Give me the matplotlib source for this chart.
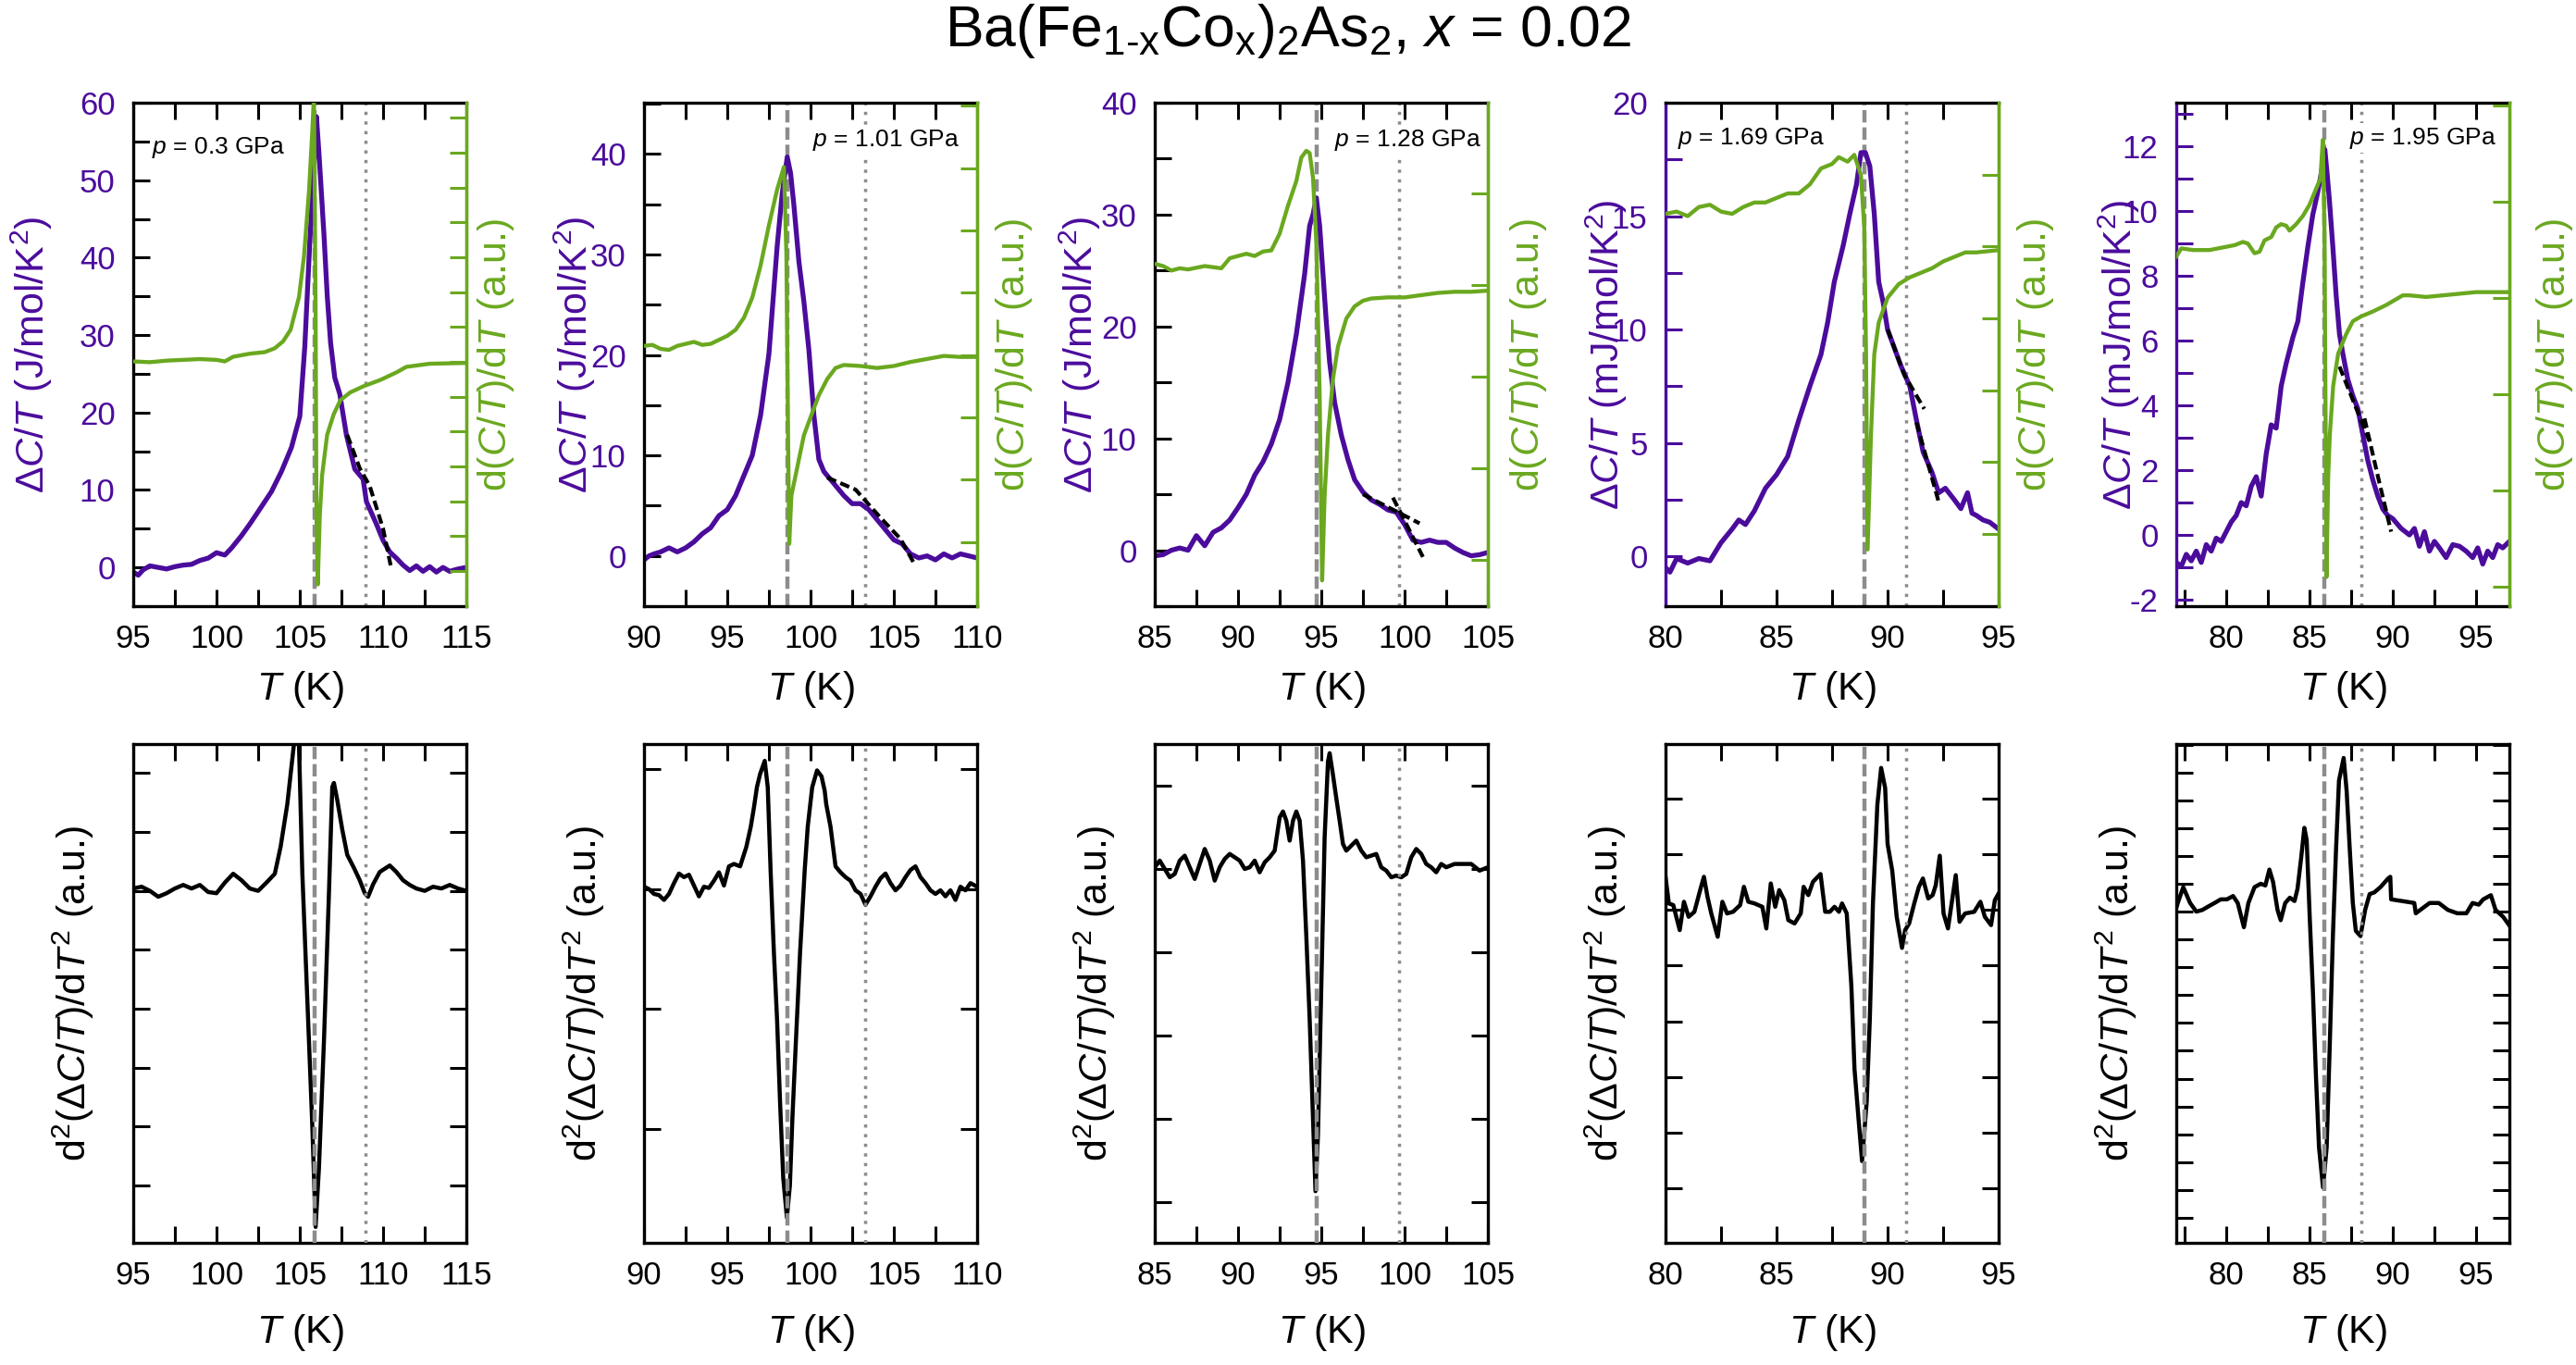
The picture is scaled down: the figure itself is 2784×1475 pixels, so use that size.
import numpy as np
import matplotlib
matplotlib.use("Agg")
import matplotlib.pyplot as plt
from matplotlib.ticker import MultipleLocator

plt.rcParams['font.family'] = ['Liberation Sans', 'DejaVu Sans']
plt.rcParams['mathtext.fontset'] = 'custom'
plt.rcParams['mathtext.rm'] = 'Liberation Sans'
plt.rcParams['mathtext.it'] = 'Liberation Sans:italic'
plt.rcParams['mathtext.bf'] = 'Liberation Sans:bold'
plt.rcParams['axes.unicode_minus'] = False

PURPLE = "#4b0c9c"
GREEN = "#6aa81f"
GRAY = "#8c8c8c"

# ---------------- data ----------------
# pressures (GPa) and the two marked temperatures per panel
pressures = ["0.3", "1.01", "1.28", "1.69", "1.95"]
t_dashed = [105.9, 98.6, 94.7, 88.95, 85.9]
t_dotted = [108.95, 103.3, 99.65, 90.85, 88.1]

# panel 1 (p = 0.3 GPa)
p1_T = [95, 95.3, 95.6, 96, 96.5, 97, 97.5, 98, 98.5, 99, 99.5, 100, 100.5, 100.9, 101.5, 102, 102.5,
        103.3, 103.9, 104.5, 105.0, 105.3, 105.6, 105.85, 106.0, 106.15, 106.45, 106.65, 106.85, 107.1,
        107.4, 107.8, 108.3, 108.8, 109.0, 109.6, 110.0, 110.4, 110.8, 111.2, 111.6, 112, 112.4, 112.8,
        113.2, 113.6, 114, 114.5, 115]
p1_C = [-0.6, -1.0, -0.3, 0.2, 0.0, -0.2, 0.1, 0.3, 0.4, 0.9, 1.2, 1.9, 1.6, 2.5, 4.1, 5.6, 7.2,
        9.8, 12.4, 15.5, 19.5, 28.5, 42.0, 52.0, 58.2, 53.5, 43.0, 35.0, 29.0, 24.5,
        22.4, 17.1, 12.7, 11.4, 8.5, 5.6, 3.5, 2.0, 1.2, 0.3, -0.4, 0.2, -0.5, 0.1,
        -0.6, 0.0, -0.5, -0.2, 0.0]
p1_gT = [95, 96, 97, 98, 99, 100, 100.5, 101, 102, 102.9, 103.5, 104.0, 104.45, 104.95, 105.25, 105.55,
         105.75, 105.85, 105.95, 106.0, 106.08, 106.2, 106.34, 106.64, 107.04, 107.44, 108.03, 108.83,
         109.83, 110.82, 111.4, 112.8, 115]
p1_g = [26.6, 26.5, 26.7, 26.8, 26.9, 26.8, 26.6, 27.2, 27.6, 27.8, 28.3, 29.2, 30.7, 34.9, 40.1, 48.5,
        56.3, 61.0, 32.8, 6.7, -2.2, 6.7, 11.9, 17.1, 19.8, 21.6, 22.6, 23.4,
        24.2, 25.2, 25.9, 26.3, 26.4]
p1_fT = [107.85, 108.6, 109.2, 110.0, 110.5]
p1_f = [17.1, 12.8, 10.5, 5.0, -0.2]
p1_bT = [95, 95.5, 96, 96.5, 97, 97.5, 98, 98.5, 99, 99.5, 100, 100.5, 101, 101.5, 102, 102.5, 103, 103.5,
         103.85, 104.25, 104.65, 104.8, 104.95, 105.15, 105.45, 105.75, 105.95, 106.15, 106.45, 106.75,
         106.95, 107.05, 107.25, 107.55, 107.85, 108.25, 108.6, 108.9, 109.1, 109.4, 109.8, 110.4, 110.8,
         111.2, 111.6, 112, 112.5, 113, 113.5, 114, 114.5, 115]
p1_b = [0.04, 0.07, 0.0, -0.1, -0.04, 0.04, 0.1, 0.04, 0.1, -0.02, -0.04, 0.14, 0.29, 0.18, 0.04, 0.0, 0.14, 0.29,
        0.75, 1.47, 2.49, 3.0, 2.49, 0.32, -1.83, -3.98, -5.7, -4.7, -2.55, -0.04,
        1.76, 1.83, 1.54, 1.04, 0.61, 0.39, 0.18, -0.04, -0.1, 0.11, 0.32, 0.43, 0.32,
        0.18, 0.1, 0.04, 0.0, 0.07, 0.04, 0.1, 0.04, 0.0]

# panel 2 (p = 1.01 GPa)
p2_T = [90, 90.3, 90.6, 91, 91.5, 92, 92.5, 93, 93.5, 94, 94.5, 95, 95.5, 96, 96.5, 97, 97.5, 98, 98.3,
        98.6, 98.8, 99.0, 99.3, 99.6, 99.9, 100.2, 100.5, 100.8, 101.2, 101.6, 102, 102.5, 103, 103.5,
        104, 104.5, 105, 105.5, 106, 106.5, 107, 107.5, 108, 108.5, 109, 109.5, 110]
p2_C = [-0.4, 0.0, 0.2, 0.4, 0.8, 0.4, 0.8, 1.4, 2.2, 2.8, 4.0, 4.6, 6.0, 8.0, 10.0, 14.0, 20.1, 30.9, 36.1,
        39.7, 38.1, 34.9, 29.3, 25.3, 20.5, 14.0, 9.6, 8.4, 7.6, 6.8, 6.0, 5.2, 5.2, 4.6,
        3.6, 2.6, 1.6, 1.2, 0.2, -0.2, 0.0, -0.4, 0.2, -0.2, 0.2, 0.0, -0.2]
p2_gT = [90, 90.5, 91, 91.5, 92, 92.5, 93, 93.5, 94, 94.5, 95, 95.5, 96, 96.5, 97, 97.5, 98, 98.4, 98.55,
         98.65, 98.72, 98.85, 99.0, 99.3, 99.6, 100, 100.5, 101, 101.5, 102, 103, 104, 105, 106, 107, 108,
         109, 110]
p2_g = [20.9, 21.0, 20.6, 20.5, 20.9, 21.1, 21.3, 21.0, 21.1, 21.5, 21.9, 22.5, 23.7, 25.7, 28.9, 32.9, 36.5,
        38.7, 30.0, 12.0, 1.2, 6.0, 7.2, 9.6, 12.0, 13.8, 16.0, 17.6, 18.7, 19.0, 18.9, 18.7, 18.9, 19.3,
        19.6, 19.9, 19.8, 19.8]
p2_fT = [101.0, 102.7, 104.2, 105.4, 106.2]
p2_f = [7.8, 6.6, 3.8, 1.7, -0.7]
p2_bT = [90, 90.3, 90.6, 90.9, 91.2, 91.5, 91.8, 92.1, 92.4, 92.7, 93.0, 93.3, 93.6, 93.9, 94.2, 94.5, 94.8,
         95.1, 95.4, 95.77, 96.14, 96.41, 96.6, 96.78, 96.97, 97.25, 97.43, 97.6, 97.8, 97.99, 98.17, 98.36,
         98.58, 98.76, 98.91, 99.09, 99.37, 99.65, 99.83, 100.1, 100.39, 100.66, 100.85, 100.94, 101.2,
         101.5, 101.8, 102.1, 102.4, 102.7, 103.0, 103.3, 103.6, 103.9, 104.2, 104.5, 104.8, 105.1, 105.4,
         105.7, 106.0, 106.3, 106.6, 106.9, 107.2, 107.5, 107.8, 108.1, 108.4, 108.7, 109.0, 109.3, 109.6,
         110]
p2_b = [0.02, 0.0, -0.04, -0.05, -0.09, -0.04, 0.05, 0.13, 0.1, 0.12, 0.03, -0.06, 0.02, 0.01, 0.07, 0.14, 0.03,
        0.19, 0.21, 0.19, 0.35, 0.52, 0.68, 0.85, 0.96, 1.07, 0.85, 0.16, -0.53, -1.09, -1.78, -2.41,
        -2.74, -2.47, -1.91, -1.36, -0.53, 0.16, 0.52, 0.85, 0.99, 0.94, 0.82, 0.71, 0.52,
        0.19, 0.14, 0.1, 0.07, -0.01, -0.04, -0.13, -0.06, 0.02, 0.09, 0.13, 0.05, -0.01, 0.03,
        0.1, 0.16, 0.19, 0.1, 0.05, -0.01, -0.04, -0.01, -0.06, -0.01, -0.09, 0.02, -0.01, 0.05,
        0.02]

# panel 3 (p = 1.28 GPa)
p3_T = [85, 85.5, 86, 86.5, 87, 87.5, 88, 88.5, 89, 89.5, 90, 90.5, 91, 91.5, 92, 92.5, 93, 93.5, 94, 94.3,
        94.5, 94.7, 94.9, 95.1, 95.3, 95.5, 95.8, 96.2, 96.6, 97, 97.5, 98, 98.5, 99, 99.5, 100, 100.5, 101,
        101.5, 102, 102.5, 103, 103.5, 104, 104.5, 105]
p3_C = [-0.5, -0.4, 0.0, 0.2, 0.0, 1.3, 0.4, 1.6, 2.0, 2.7, 3.8, 5.0, 6.7, 7.9, 9.5, 11.7, 15.0, 19.3, 24.7,
        29.0, 30.0, 31.5, 29.0, 24.7, 20.4, 16.8, 13.2, 10.3, 8.1, 6.3, 5.2, 4.5, 4.1, 3.6, 3.4, 2.3, 0.9,
        0.7, 0.9, 0.7, 0.7, 0.2, -0.2, -0.5, -0.4, -0.2]
p3_gT = [85, 85.5, 86, 86.5, 87, 88, 89, 89.5, 90, 90.5, 91, 91.5, 92, 92.5, 93, 93.5, 93.8, 94.1, 94.3,
         94.5, 94.7, 94.9, 95.05, 95.2, 95.4, 95.7, 96, 96.5, 97, 97.5, 98, 99, 100, 101, 102, 103, 104, 105]
p3_g = [25.6, 25.4, 25.0, 25.2, 25.1, 25.4, 25.2, 26.1, 26.3, 26.5, 26.3, 26.7, 26.8, 28.3, 30.8, 33.0, 35.1,
        35.7, 35.5, 33.3, 27.6, 13.9, -2.7, 4.9, 10.3, 15.3, 18.2, 20.7, 21.8, 22.3, 22.5, 22.6, 22.6,
        22.8, 23.0, 23.1, 23.1, 23.2]
p3_fT = [97.5, 100.9, np.nan, 99.3, 101.1]
p3_f = [5.0, 2.4, np.nan, 4.7, -0.6]
p3_bT = [85, 85.3, 85.6, 85.9, 86.2, 86.5, 86.8, 87.1, 87.4, 87.7, 88.0, 88.3, 88.6, 88.9, 89.2, 89.5, 89.8,
         90.1, 90.4, 90.7, 91.0, 91.3, 91.6, 91.9, 92.2, 92.5, 92.7, 92.9, 93.1, 93.3, 93.5, 93.7, 93.9,
         94.1, 94.3, 94.5, 94.65, 94.8, 95.0, 95.2, 95.4, 95.5, 95.7, 95.9, 96.1, 96.3, 96.5, 96.8, 97.1,
         97.4, 97.7, 98.0, 98.3, 98.6, 98.9, 99.2, 99.5, 99.8, 100.1, 100.4, 100.7, 101.0, 101.3, 101.6,
         101.9, 102.2, 102.5, 103.0, 103.5, 104.0, 104.5, 105.0]
p3_b = [0.02, 0.1, 0.0, -0.1, -0.06, 0.1, 0.16, 0.02, -0.12, 0.06, 0.24, 0.1, -0.14, 0.02, 0.12, 0.18, 0.14,
        0.1, 0.0, 0.02, 0.1, -0.04, 0.08, 0.14, 0.22, 0.62, 0.69, 0.58, 0.34, 0.58, 0.69, 0.58, 0.1,
        -0.81, -1.8, -2.99, -3.87, -3.19, -1.41, 0.38, 1.29, 1.39, 1.13, 0.85, 0.58, 0.3, 0.22, 0.28, 0.34,
        0.22, 0.14, 0.16, 0.18, 0.02, -0.02, -0.1, -0.08, -0.1, -0.06, 0.14, 0.24, 0.18, 0.06, 0.02,
        -0.04, 0.06, 0.02, 0.06, 0.06, 0.06, -0.02, 0.02]

# panel 4 (p = 1.69 GPa)
p4_T = [80, 80.2, 80.5, 81, 81.5, 82, 82.5, 83, 83.3, 83.6, 84, 84.5, 85, 85.5, 86, 86.5, 87, 87.3, 87.6, 88,
        88.3, 88.6, 88.8, 89.0, 89.2, 89.4, 89.6, 89.8, 90.0, 90.3, 90.6, 91, 91.3, 91.6, 92, 92.3, 92.6, 93,
        93.3, 93.6, 93.8, 94, 94.3, 94.6, 95]
p4_C = [-0.5, -0.7, -0.1, -0.3, -0.1, -0.2, 0.6, 1.2, 1.6, 1.4, 2.0, 3.0, 3.6, 4.4, 6.0, 7.5, 8.9, 10.3, 12.1,
        13.7, 15.1, 16.4, 17.8, 17.8, 17.2, 15.1, 12.1, 11.2, 10.0, 9.2, 8.4, 7.5, 6.0, 4.6, 3.7, 2.8, 3.0,
        2.5, 2.1, 2.8, 1.9, 1.8, 1.6, 1.5, 1.2]
p4_gT = [80, 80.5, 81, 81.5, 82, 82.5, 83, 83.5, 84, 84.5, 85, 85.5, 86, 86.5, 87, 87.5, 87.8, 88.2, 88.5,
         88.8, 88.95, 89.03, 89.1, 89.25, 89.4, 89.6, 90.0, 90.5, 91, 91.5, 92, 92.5, 93, 93.5, 94, 95]
p4_g = [15.1, 15.2, 15.0, 15.4, 15.5, 15.2, 15.1, 15.4, 15.6, 15.6, 15.8, 16.0, 16.0, 16.4, 17.1, 17.3, 17.6,
        17.4, 17.7, 16.8, 14.5, 8.9, 0.3, 5.3, 8.9, 10.3, 11.4, 12.0, 12.3, 12.5, 12.7, 13.0, 13.2, 13.4,
        13.4, 13.5]
p4_fT = [90.0, 90.75, 91.65, np.nan, 91.3, 92.3]
p4_f = [10.0, 8.0, 6.5, np.nan, 5.9, 2.4]
p4_bT = [80.0, 80.15, 80.35, 80.64, 80.83, 81.04, 81.3, 81.6, 81.73, 81.89, 82.06, 82.35, 82.56, 82.77,
         83.04, 83.36, 83.53, 83.73, 84.01, 84.36, 84.54, 84.74, 84.94, 85.12, 85.35, 85.53, 85.81, 86.09,
         86.22, 86.43, 86.64, 86.98, 87.19, 87.4, 87.61, 87.81, 87.95, 88.16, 88.37, 88.51, 88.69, 88.85,
         89.06, 89.2, 89.34, 89.54, 89.71, 89.89, 90.0, 90.21, 90.41, 90.65, 90.79, 90.97, 91.2, 91.41,
         91.59, 91.83, 92.03, 92.17, 92.35, 92.52, 92.72, 93.07, 93.24, 93.49, 93.9, 94.18, 94.38, 94.66,
         94.83, 95.0]
p4_b = [0.6, 0.12, 0.09, -0.36, 0.15, -0.12, -0.03, 0.42, 0.6, 0.24, -0.06, -0.48, 0.15, -0.06,
        -0.03, 0.09, 0.42, 0.15, 0.12, 0.06, -0.33, 0.48, 0.06, 0.36, 0.18, -0.18, -0.24, -0.06,
        0.42, 0.27, 0.51, 0.65, -0.03, -0.03, 0.06, -0.03, 0.12, -0.06, -1.37, -2.86, -3.75, -4.52,
        -3.45, -1.96, 0.12, 1.9, 2.56, 2.2, 1.19, 0.71, -0.12, -0.68, -0.36, -0.24, 0.12, 0.42,
        0.57, 0.21, 0.27, 0.45, 0.98, -0.06, -0.33, 0.63, -0.21, -0.06, -0.03, 0.15, -0.12, -0.27,
        0.18, 0.3]

# panel 5 (p = 1.95 GPa)
p5_T = [77.0, 77.3, 77.6, 77.9, 78.2, 78.5, 78.8, 79.1, 79.4, 79.7, 80.0, 80.3, 80.6, 80.9, 81.2, 81.5, 81.8,
        82.1, 82.4, 82.7, 83.0, 83.3, 83.6, 84.0, 84.3, 84.6, 84.9, 85.2, 85.5, 85.75, 85.92, 86.05, 86.2,
        86.4, 86.6, 86.8, 87.0, 87.3, 87.6, 87.9, 88.2, 88.5, 88.8, 89.1, 89.4, 89.7, 90.0, 90.5, 91.0,
        91.3, 91.6, 91.9, 92.2, 92.5, 92.8, 93.2, 93.6, 94.0, 94.4, 94.8, 95.1, 95.4, 95.7, 96.0, 96.3,
        96.6, 97.0]
p5_C = [-0.85, -0.97, -0.6, -0.8, -0.5, -0.85, -0.3, -0.5, -0.1, -0.2, 0.1, 0.4, 0.6, 1.0, 0.9, 1.5, 1.8,
        1.2, 2.5, 3.4, 3.3, 4.6, 5.3, 6.1, 6.6, 7.8, 8.9, 9.9, 10.6, 11.3, 11.9, 11.2, 10.3,
        8.9, 7.4, 6.2, 5.6, 4.8, 4.3, 3.9, 3.1, 2.3, 1.7, 1.2, 0.8, 0.6, 0.5, 0.2, 0.0,
        0.2, -0.35, 0.1, -0.5, -0.2, -0.4, -0.7, -0.3, -0.35, -0.5, -0.7, -0.4, -0.9, -0.5, -0.7, -0.3,
        -0.4, -0.2]
p5_gT = [77.0, 77.3, 78, 79, 80, 80.5, 81, 81.3, 81.7, 82, 82.3, 82.7, 83.0, 83.3, 83.6, 83.8, 84.2, 84.6,
         85.0, 85.4, 85.65, 85.8, 85.9, 85.97, 86.02, 86.12, 86.22, 86.42, 86.72, 87.2, 87.6, 88.1, 88.8,
         89.6, 90.6, 91, 92, 93, 94, 95, 96, 97]
p5_g = [8.6, 8.85, 8.8, 8.8, 8.9, 8.95, 9.05, 9.0, 8.7, 8.75, 9.1, 9.2, 9.5, 9.6, 9.55, 9.4, 9.6, 9.85,
        10.2, 10.7, 11.0, 12.2, 9.3, 3.1, -1.3, 1.8, 3.1, 4.6, 5.6, 6.2, 6.6, 6.75, 6.9,
        7.1, 7.4, 7.4, 7.35, 7.4, 7.45, 7.5, 7.5, 7.5]
p5_fT = [86.8, 87.5, 88.2, 88.6, np.nan, 88.3, 89.2, 89.9]
p5_f = [5.2, 4.3, 3.4, 2.9, np.nan, 3.6, 1.6, 0.1]
p5_bT = [77.0, 77.09, 77.42, 77.83, 78.2, 78.57, 78.94, 79.3, 79.67, 80.04, 80.41, 80.69, 81.06, 81.33, 81.7,
         82.07, 82.35, 82.59, 82.81, 83.08, 83.27, 83.54, 83.82, 84.1, 84.28, 84.5, 84.69, 84.83, 85.02,
         85.2, 85.39, 85.57, 85.81, 86.03, 86.22, 86.4, 86.59, 86.77, 87.05, 87.23, 87.42, 87.6, 87.78,
         88.06, 88.34, 88.61, 88.89, 89.26, 89.72, 89.85, 89.9, 90.55, 91.29, 91.38, 91.65, 92.21, 92.76,
         93.31, 93.87, 94.42, 94.79, 95.16, 95.43, 95.89, 96.17, 96.63, 97.0]
p5_b = [0.13, 0.31, 0.88, 0.31, 0.0, 0.06, 0.19, 0.31, 0.44, 0.44, 0.56, 0.31, -0.56, 0.31, 0.88,
        1.0, 0.94, 1.51, 1.07, 0.06, -0.31, 0.31, 0.5, 0.38, 0.82, 1.94, 3.01, 2.57, -0.31,
        -2.82, -5.96, -8.47, -9.91, -8.47, -4.71, -0.94, 2.2, 4.71, 5.52, 4.33, 2.2, 0.31, -0.69,
        -0.88, 0.06, 0.63, 0.69, 0.88, 1.19, 1.25, 0.44, 0.38, 0.31, -0.06, 0.06, 0.31, 0.31,
        0.06, -0.06, -0.06, 0.31, 0.25, 0.44, 0.59, 0.06, -0.19, -0.5]

# ---------------- per-panel axis settings ----------------
xlims = [(95, 115), (90, 110), (85, 105), (80, 95), (77, 97)]
ylims = [(-5, 60), (-5, 45.1), (-5, 40), (-2.2, 20), (-2.2, 13.35)]
y_major = [10, 10, 10, 5, 2]
y_minor = [5, 5, 5, 2.5, 1]
right_tick = [(-0.47, 4.5), (1.4, 6.2), (-0.9, 8.2), (0.98, 3.17), (-1.6, 2.97)]
units = ["J", "J", "J", "mJ", "mJ"]
left_col = ["k", "k", "k", PURPLE, PURPLE]
ylab_x = [-0.236, -0.139, -0.156, -0.108, -0.103]
ylab2_x = [1.028, 1.05, 1.061, 1.05, 1.075]
ptxt = [(0.055, 0.91, "left"), (0.947, 0.925, "right"), (0.98, 0.925, "right"),
        (0.036, 0.93, "left"), (0.96, 0.93, "right")]
ylims_b = [(-5.97, 2.49), (-2.95, 1.21), (-4.49, 1.5), (-5.99, 2.99), (-11.9, 6.02)]

top_T = [p1_T, p2_T, p3_T, p4_T, p5_T]
top_C = [p1_C, p2_C, p3_C, p4_C, p5_C]
green_T = [p1_gT, p2_gT, p3_gT, p4_gT, p5_gT]
green_v = [p1_g, p2_g, p3_g, p4_g, p5_g]
fit_T = [p1_fT, p2_fT, p3_fT, p4_fT, p5_fT]
fit_v = [p1_f, p2_f, p3_f, p4_f, p5_f]
bot_T = [p1_bT, p2_bT, p3_bT, p4_bT, p5_bT]
bot_v = [p1_b, p2_b, p3_b, p4_b, p5_b]

W, H = 2784, 1475
fig = plt.figure(figsize=(W / 100, H / 100), dpi=100)

TL = 13      # tick length
TW = 2.2     # tick width
SW = 2.4     # spine width
FS_TICK = 25
FS_LAB = 31


def style_x(ax, xlim):
    ax.set_xlim(xlim)
    ax.xaxis.set_major_locator(MultipleLocator(5))
    ax.xaxis.set_minor_locator(MultipleLocator(2.5))
    ax.tick_params(axis="x", which="both", direction="in", top=True, bottom=True,
                   length=TL, width=TW, labelsize=FS_TICK, pad=14, color="k")


def vlines(ax, i, z):
    ax.axvline(t_dashed[i], color=GRAY, lw=3.2, ls=(0, (3.0, 1.2)), zorder=z)
    ax.axvline(t_dotted[i], color=GRAY, lw=2.5, ls=(0, (1, 2.0)), zorder=z)


for i in range(5):
    x0 = (144 + 552 * i) / W

    # ---- top row: dC/T and d(C/T)/dT ----
    ax = fig.add_axes([x0, 1 - 655 / H, 360 / W, 544 / H])
    ax.plot(top_T[i], top_C[i], color=PURPLE, lw=3.8, zorder=2)
    ax.plot(fit_T[i], fit_v[i], color="k", lw=3.0, ls=(0, (2.5, 1.2)), zorder=3)
    vlines(ax, i, 1.5)
    style_x(ax, xlims[i])
    ax.set_ylim(ylims[i])
    ax.yaxis.set_major_locator(MultipleLocator(y_major[i]))
    ax.yaxis.set_minor_locator(MultipleLocator(y_minor[i]))
    ax.tick_params(axis="y", which="both", direction="in", left=True, right=False,
                   length=TL, width=TW, labelsize=FS_TICK, pad=14,
                   color=left_col[i], labelcolor=PURPLE)
    for s in ax.spines.values():
        s.set_linewidth(SW)
    ax.spines["left"].set_color(left_col[i])
    ax.spines["right"].set_color(GREEN)
    ax.set_ylabel("Δ$\\mathit{C}$/$\\mathit{T}$ (%s/mol/K$^2$)" % units[i],
                  color=PURPLE, fontsize=FS_LAB)
    ax.yaxis.set_label_coords(ylab_x[i], 0.5)
    ax.set_xlabel("$\\mathit{T}$ (K)", fontsize=FS_LAB)
    ax.xaxis.set_label_coords(0.5, -0.125)

    ax2 = ax.twinx()
    ax2.plot(green_T[i], green_v[i], color=GREEN, lw=3.1, zorder=2)
    ax2.set_ylim(ylims[i])
    start, step = right_tick[i]
    ax2.set_yticks(np.arange(start, ylims[i][1], step))
    ax2.tick_params(axis="y", which="both", direction="in", length=TL, width=TW,
                    color=GREEN, labelright=False)
    for k in ("left", "top", "bottom"):
        ax2.spines[k].set_visible(False)
    ax2.spines["right"].set_color(GREEN)
    ax2.spines["right"].set_linewidth(SW)
    ax2.set_ylabel("d($\\mathit{C}$/$\\mathit{T}$)/d$\\mathit{T}$ (a.u.)",
                   color=GREEN, fontsize=FS_LAB)
    ax2.yaxis.set_label_coords(ylab2_x[i], 0.5)
    tx, ty, ha = ptxt[i]
    ax2.text(tx, ty, "$\\mathit{p}$ = %s GPa" % pressures[i], transform=ax2.transAxes,
             ha=ha, va="center", fontsize=19, zorder=6,
             bbox=dict(facecolor="white", edgecolor="none", pad=1.5))

    # ---- bottom row: second derivative ----
    axb = fig.add_axes([x0, 1 - 1343 / H, 360 / W, 539 / H])
    axb.plot(bot_T[i], bot_v[i], color="k", lw=3.2, zorder=2)
    vlines(axb, i, 3)
    style_x(axb, xlims[i])
    axb.set_ylim(ylims_b[i])
    axb.yaxis.set_major_locator(MultipleLocator(1))
    axb.tick_params(axis="y", which="both", direction="in", left=True, right=True,
                    length=TL, width=TW, labelleft=False)
    for s in axb.spines.values():
        s.set_linewidth(SW)
    axb.set_ylabel("d$^2$(Δ$\\mathit{C}$/$\\mathit{T}$)/d$\\mathit{T}^2$ (a.u.)", fontsize=FS_LAB)
    axb.yaxis.set_label_coords(-0.112, 0.5)
    axb.set_xlabel("$\\mathit{T}$ (K)", fontsize=FS_LAB)
    axb.xaxis.set_label_coords(0.5, -0.14)

fig.text(0.5, 0.977, "Ba(Fe$_{\\mathrm{1\u2010x}}$Co$_{\\mathrm{x}}$)$_2$As$_2$, $\\mathit{x}$ = 0.02",
         ha="center", va="center", fontsize=45)

fig.savefig("out.png", dpi=100)
